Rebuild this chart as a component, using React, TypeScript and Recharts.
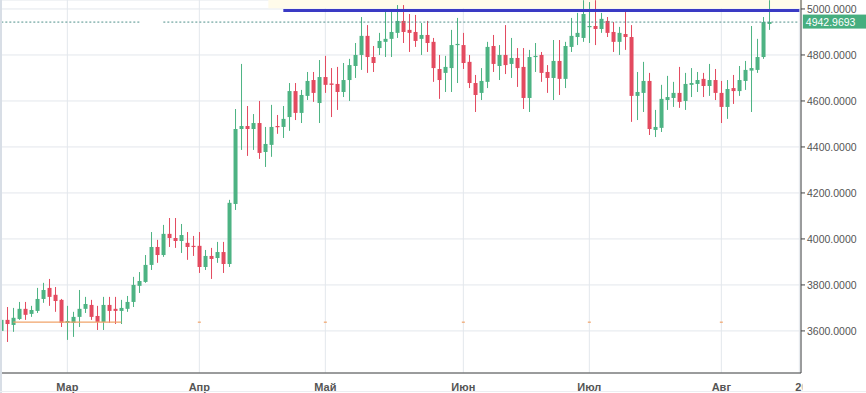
import {
  ComposedChart,
  Bar,
  XAxis,
  YAxis,
  CartesianGrid,
  ReferenceLine,
  ReferenceArea,
  ReferenceDot,
} from 'recharts';

/* ------------------------------------------------------------------ */
/*  Data (daily candles, Mar – Aug)                                    */
/* ------------------------------------------------------------------ */
const OPEN = [
  3600, 3648, 3626, 3652, 3696, 3674, 3687, 3739, 3787, 3757,
  3735, 3635, 3635, 3661, 3696, 3713, 3665, 3639, 3713, 3696,
  3687, 3696, 3726, 3796, 3813, 3887, 3965, 3930, 4022, 4004,
  3991, 3983, 3970, 3970, 3878, 3926, 3917, 3943, 3891, 4152,
  4478, 4491, 4478, 4504, 4378, 4409, 4491, 4487, 4530, 4643,
  4548, 4622, 4691, 4591, 4704, 4676, 4674, 4639, 4691, 4752,
  4800, 4883, 4791, 4830, 4857, 4870, 4896, 4948, 4909, 4900,
  4870, 4887, 4857, 4739, 4722, 4743, 4843, 4843, 4770, 4678,
  4635, 4683, 4839, 4752, 4800, 4761, 4787, 4748, 4613, 4791,
  4800, 4726, 4700, 4774, 4696, 4835, 4878, 4874, 4922, 4926,
  4913, 4948, 4900, 4857, 4891, 4878, 4622, 4635, 4687, 4474,
  4483, 4604, 4613, 4635, 4600, 4670, 4674, 4696, 4665, 4691,
  4635, 4574, 4656, 4643, 4687, 4732, 4735, 4791, 4935,
];

const HIGH = [
  3665, 3704, 3700, 3726, 3726, 3709, 3787, 3809, 3826, 3791,
  3739, 3709, 3683, 3778, 3748, 3735, 3709, 3748, 3748, 3748,
  3735, 3752, 3835, 3856, 3930, 4030, 3996, 4061, 4091, 4091,
  4065, 4030, 4013, 4030, 3952, 3961, 3987, 3987, 4170, 4565,
  4761, 4578, 4543, 4600, 4487, 4583, 4539, 4578, 4678, 4678,
  4648, 4726, 4726, 4778, 4796, 4743, 4748, 4765, 4783, 4852,
  4965, 4930, 4839, 4896, 4996, 4987, 5017, 5017, 4978, 4974,
  4939, 4948, 4874, 4800, 4796, 4909, 4961, 4896, 4800, 4713,
  4743, 4857, 4887, 4843, 4930, 4874, 4830, 4830, 4822, 4852,
  4813, 4756, 4865, 4865, 4857, 4961, 4983, 5038, 5030, 5038,
  4983, 4965, 4943, 4922, 4996, 4930, 4726, 4770, 4722, 4561,
  4670, 4709, 4683, 4748, 4722, 4743, 4726, 4722, 4761, 4739,
  4687, 4691, 4713, 4752, 4774, 4926, 4870, 4965, 5038,
];

const LOW = [
  3587, 3552, 3596, 3648, 3648, 3661, 3678, 3722, 3709, 3683,
  3617, 3561, 3574, 3617, 3678, 3648, 3604, 3604, 3635, 3630,
  3630, 3683, 3704, 3765, 3809, 3865, 3896, 3922, 3965, 3961,
  3939, 3909, 3926, 3852, 3865, 3826, 3896, 3852, 3878, 4126,
  4387, 4361, 4387, 4348, 4313, 4357, 4457, 4439, 4470, 4517,
  4504, 4604, 4596, 4504, 4635, 4530, 4561, 4617, 4600, 4700,
  4735, 4722, 4726, 4800, 4791, 4791, 4874, 4852, 4813, 4835,
  4800, 4813, 4683, 4609, 4639, 4639, 4678, 4739, 4656, 4552,
  4604, 4656, 4726, 4691, 4717, 4700, 4661, 4565, 4552, 4726,
  4683, 4635, 4604, 4626, 4656, 4813, 4843, 4857, 4852, 4843,
  4896, 4878, 4813, 4800, 4822, 4509, 4517, 4552, 4452, 4443,
  4465, 4561, 4574, 4570, 4561, 4617, 4639, 4617, 4622, 4604,
  4504, 4522, 4587, 4622, 4648, 4552, 4722, 4783, 4909,
];

const CLOSE = [
  3648, 3630, 3657, 3696, 3670, 3691, 3739, 3778, 3748, 3730,
  3635, 3643, 3661, 3696, 3717, 3661, 3639, 3713, 3687, 3687,
  3700, 3726, 3800, 3817, 3887, 3965, 3930, 4022, 4004, 3991,
  4017, 3965, 3965, 3878, 3926, 3913, 3943, 3891, 4157, 4478,
  4491, 4478, 4504, 4374, 4413, 4487, 4487, 4522, 4643, 4548,
  4626, 4687, 4635, 4704, 4670, 4670, 4639, 4691, 4756, 4800,
  4883, 4791, 4765, 4861, 4870, 4900, 4948, 4900, 4896, 4861,
  4887, 4852, 4743, 4691, 4748, 4843, 4848, 4765, 4678, 4626,
  4687, 4835, 4761, 4800, 4756, 4787, 4743, 4613, 4791, 4796,
  4722, 4700, 4774, 4696, 4839, 4883, 4896, 4978, 4926, 4913,
  4957, 4896, 4857, 4896, 4878, 4622, 4639, 4687, 4478, 4487,
  4609, 4617, 4635, 4596, 4674, 4678, 4691, 4665, 4691, 4635,
  4574, 4652, 4643, 4691, 4735, 4743, 4791, 4943, 4942.9693,
];

// month boundaries (candle index) and their labels
const MONTH_TICKS = [11, 33, 54, 77, 98, 120, 133];
const MONTH_LABELS = ['Мар', 'Апр', 'Май', 'Июн', 'Июл', 'Авг', '2018'];
const Y_TICKS = [3600, 3800, 4000, 4200, 4400, 4600, 4800, 5000];
const Y_DOMAIN = [3417, 5039];

const LAST_PRICE = 4942.9693;
const RESISTANCE = 4993;
const SUPPORT = 3638;
const TOTAL_SLOTS = 134; // a few empty days after the last candle

const GREEN = '#4db383';
const RED = '#e34a5f';
const FONT = '"Liberation Sans", Arial, sans-serif';

const chartData = Array.from({ length: TOTAL_SLOTS }, (_, i) =>
  i < OPEN.length
    ? {
        i,
        o: OPEN[i],
        h: HIGH[i],
        l: LOW[i],
        c: CLOSE[i],
        range: [LOW[i], HIGH[i]],
      }
    : { i, range: null }
);

/* ------------------------------------------------------------------ */
/*  Shapes                                                             */
/* ------------------------------------------------------------------ */
function Candle(props: any) {
  const { x, y, width, height, payload } = props;
  if (!payload || payload.h == null || !height) return null;
  const { o, h, l, c } = payload;
  const color = c >= o ? GREEN : RED;
  const k = height / (h - l);
  const top = y + (h - Math.max(o, c)) * k;
  const bot = y + (h - Math.min(o, c)) * k;
  const cx = x + width / 2;
  return (
    <g>
      <line x1={cx} x2={cx} y1={y} y2={y + height} stroke={color} strokeWidth={1} />
      <rect x={x} y={top} width={width} height={Math.max(bot - top, 1.2)} fill={color} />
    </g>
  );
}

function MonthTick(props: any) {
  const { x, y, payload, index } = props;
  const label = MONTH_LABELS[index] ?? '';
  const last = index === MONTH_LABELS.length - 1;
  return (
    <g>
      <text
        x={last ? x - 4 : x}
        y={y + 10}
        textAnchor={last ? 'start' : 'middle'}
        fill="#555"
        fontSize={11}
        fontWeight="bold"
        fontFamily={FONT}
      >
        {label}
      </text>
      {last && <rect x={x + 3} y={y} width={70} height={18} fill="#fff" />}
    </g>
  );
}

function PriceTag(props: any) {
  const { cx, cy } = props;
  if (cx == null || cy == null) return null;
  return (
    <g>
      <rect x={cx + 3.5} y={cy - 7.5} width={64} height={14} fill="#46ae7f" />
      <text
        x={cx + 6.5}
        y={cy + 3.8}
        fill="#fff"
        fontSize={10.5}
        fontFamily={FONT}
      >
        {LAST_PRICE.toFixed(4)}
      </text>
    </g>
  );
}

function OrangeMark(props: any) {
  const { cx, cy } = props;
  if (cx == null || cy == null) return null;
  return <rect x={cx - 1.5} y={cy - 0.6} width={3} height={1.2} fill="#f0a36a" />;
}

/* ------------------------------------------------------------------ */
/*  Main Component                                                     */
/* ------------------------------------------------------------------ */
export default function App() {
  return (
    <div
      style={{
        position: 'absolute',
        left: 0,
        top: 0,
        width: 866,
        height: 393,
        background: '#fff',
        fontFamily: FONT,
      }}
    >
      <ComposedChart
        width={866}
        height={393}
        data={chartData}
        margin={{ top: 0, right: 0, bottom: 0, left: 0 }}
        barCategoryGap="20%"
      >
        <CartesianGrid stroke="#e3e7ec" strokeWidth={1} />
        <ReferenceArea
          x1={45}
          x2={133}
          y1={5003}
          y2={Y_DOMAIN[1]}
          fill="#fffbea"
          fillOpacity={1}
          stroke="none"
        />
        <XAxis
          dataKey="i"
          type="category"
          ticks={MONTH_TICKS}
          interval={0}
          height={20}
          padding={{ left: -1.67, right: -1.33 }}
          tick={<MonthTick />}
          tickLine={false}
          axisLine={{ stroke: '#444' }}
        />
        <YAxis
          orientation="right"
          domain={Y_DOMAIN}
          ticks={Y_TICKS}
          width={65}
          allowDataOverflow
          tickSize={4}
          tickMargin={2}
          tickFormatter={(v: number) => v.toFixed(4)}
          tick={{ fill: '#555', fontSize: 10.5, fontFamily: FONT }}
          tickLine={{ stroke: '#444' }}
          axisLine={{ stroke: '#444' }}
        />
        <ReferenceLine
          segment={[
            { x: 0, y: LAST_PRICE },
            { x: 23, y: LAST_PRICE },
          ]}
          stroke="#4f8f8a"
          strokeDasharray="2 2"
          ifOverflow="visible"
        />
        <ReferenceLine
          segment={[
            { x: 27, y: LAST_PRICE },
            { x: 133, y: LAST_PRICE },
          ]}
          stroke="#4f8f8a"
          strokeDasharray="2 2"
          ifOverflow="visible"
        />
        <ReferenceLine
          segment={[
            { x: 2, y: SUPPORT },
            { x: 20, y: SUPPORT },
          ]}
          stroke="#f0a36a"
          strokeWidth={1.3}
          ifOverflow="visible"
        />
        {[33, 54, 77, 98, 120].map((m) => (
          <ReferenceDot key={m} x={m} y={SUPPORT} r={1} shape={<OrangeMark />} />
        ))}
        <Bar dataKey="range" shape={<Candle />} isAnimationActive={false} />
        <ReferenceLine
          segment={[
            { x: 47, y: RESISTANCE },
            { x: 133, y: RESISTANCE },
          ]}
          stroke="#3a3ac4"
          strokeWidth={3}
          ifOverflow="visible"
        />
        <ReferenceDot
          x={133}
          y={LAST_PRICE}
          r={1}
          shape={<PriceTag />}
          ifOverflow="visible"
        />
      </ComposedChart>
      {/* left frame edge and bottom rule */}
      <div
        style={{
          position: 'absolute',
          left: 0,
          top: 0,
          width: 2,
          height: 393,
          background: '#d8dee6',
        }}
      />
      <div
        style={{
          position: 'absolute',
          left: 0,
          top: 391,
          width: 866,
          height: 1,
          background: '#eceef1',
        }}
      />
    </div>
  );
}
